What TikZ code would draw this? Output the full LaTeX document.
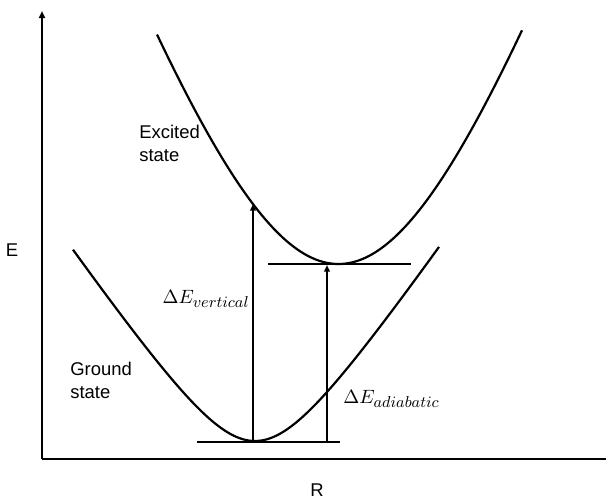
\documentclass[tikz,border=0pt]{standalone}
\usepackage{fontspec}
\setmainfont{Liberation Sans}
\usetikzlibrary{positioning,arrows.meta,calc}
\usepackage{xcolor}
\definecolor{ink}{HTML}{000000}
\DeclareMathSizes{11}{11}{9}{7}

\begin{document}
\begin{tikzpicture}[
  x=0.02cm, y=-0.02cm,
  font=\fontsize{10.5}{13}\selectfont,
  axis/.style={line width=1.2pt, color=ink},
  pes/.style={line width=1.25pt, color=ink, samples=120},
  level/.style={line width=1.25pt, color=ink},
  trans/.style={-{Triangle[length=3.8pt,width=3.2pt]}, line width=1.1pt, color=ink},
  lbl/.style={align=left, inner sep=0pt, color=ink},
  delta/.style={lbl, font=\fontsize{11}{13}\selectfont}
]
\useasboundingbox (0,0) rectangle (606,500);

% axes
\coordinate (origin) at (42,459);
\coordinate (ytop) at (42,11);
\coordinate (xend) at (606,459);
\draw[axis, -{Triangle[length=4pt,width=3.4pt]}] (origin) -- (ytop);
\draw[axis] (origin) -- (xend);
\node (elabel) at (12,250) {E};
\node (rlabel) at (317,490) {R};

% potential curves
\draw[pes, domain=157:522] plot (\x, {264 - 448*(sqrt(1+((\x-338.5)/160)^2)-1)});
\draw[pes, domain=73:439] plot (\x, {441 - 87.2*(sqrt(1+((\x-255)/60)^2)-1)});

\node[lbl, anchor=west] (excited) at (139,143) {Excited\\state};
\node[lbl, anchor=west] (ground) at (70,380) {Ground\\state};

% levels
\coordinate (gl) at (197,442);
\coordinate (gr) at (340,442);
\coordinate (el) at (268,264);
\coordinate (er) at (411,264);
\draw[level] (gl) -- (gr);
\draw[level] (el) -- (er);

% transitions
\coordinate (gmin) at (253,442);
\coordinate (vtop) at (253,204);
\coordinate (afoot) at (327,442);
\coordinate (emin) at (327,265);
\draw[trans] (gmin) -- (vtop);
\draw[trans] (afoot) -- (emin);

\node[delta, anchor=east] (vert) at (250,299) {$\Delta E_{vertical}$};
\node[delta, anchor=west] (adia) at (343,399) {$\Delta E_{adiabatic}$};

\end{tikzpicture}
\end{document}
